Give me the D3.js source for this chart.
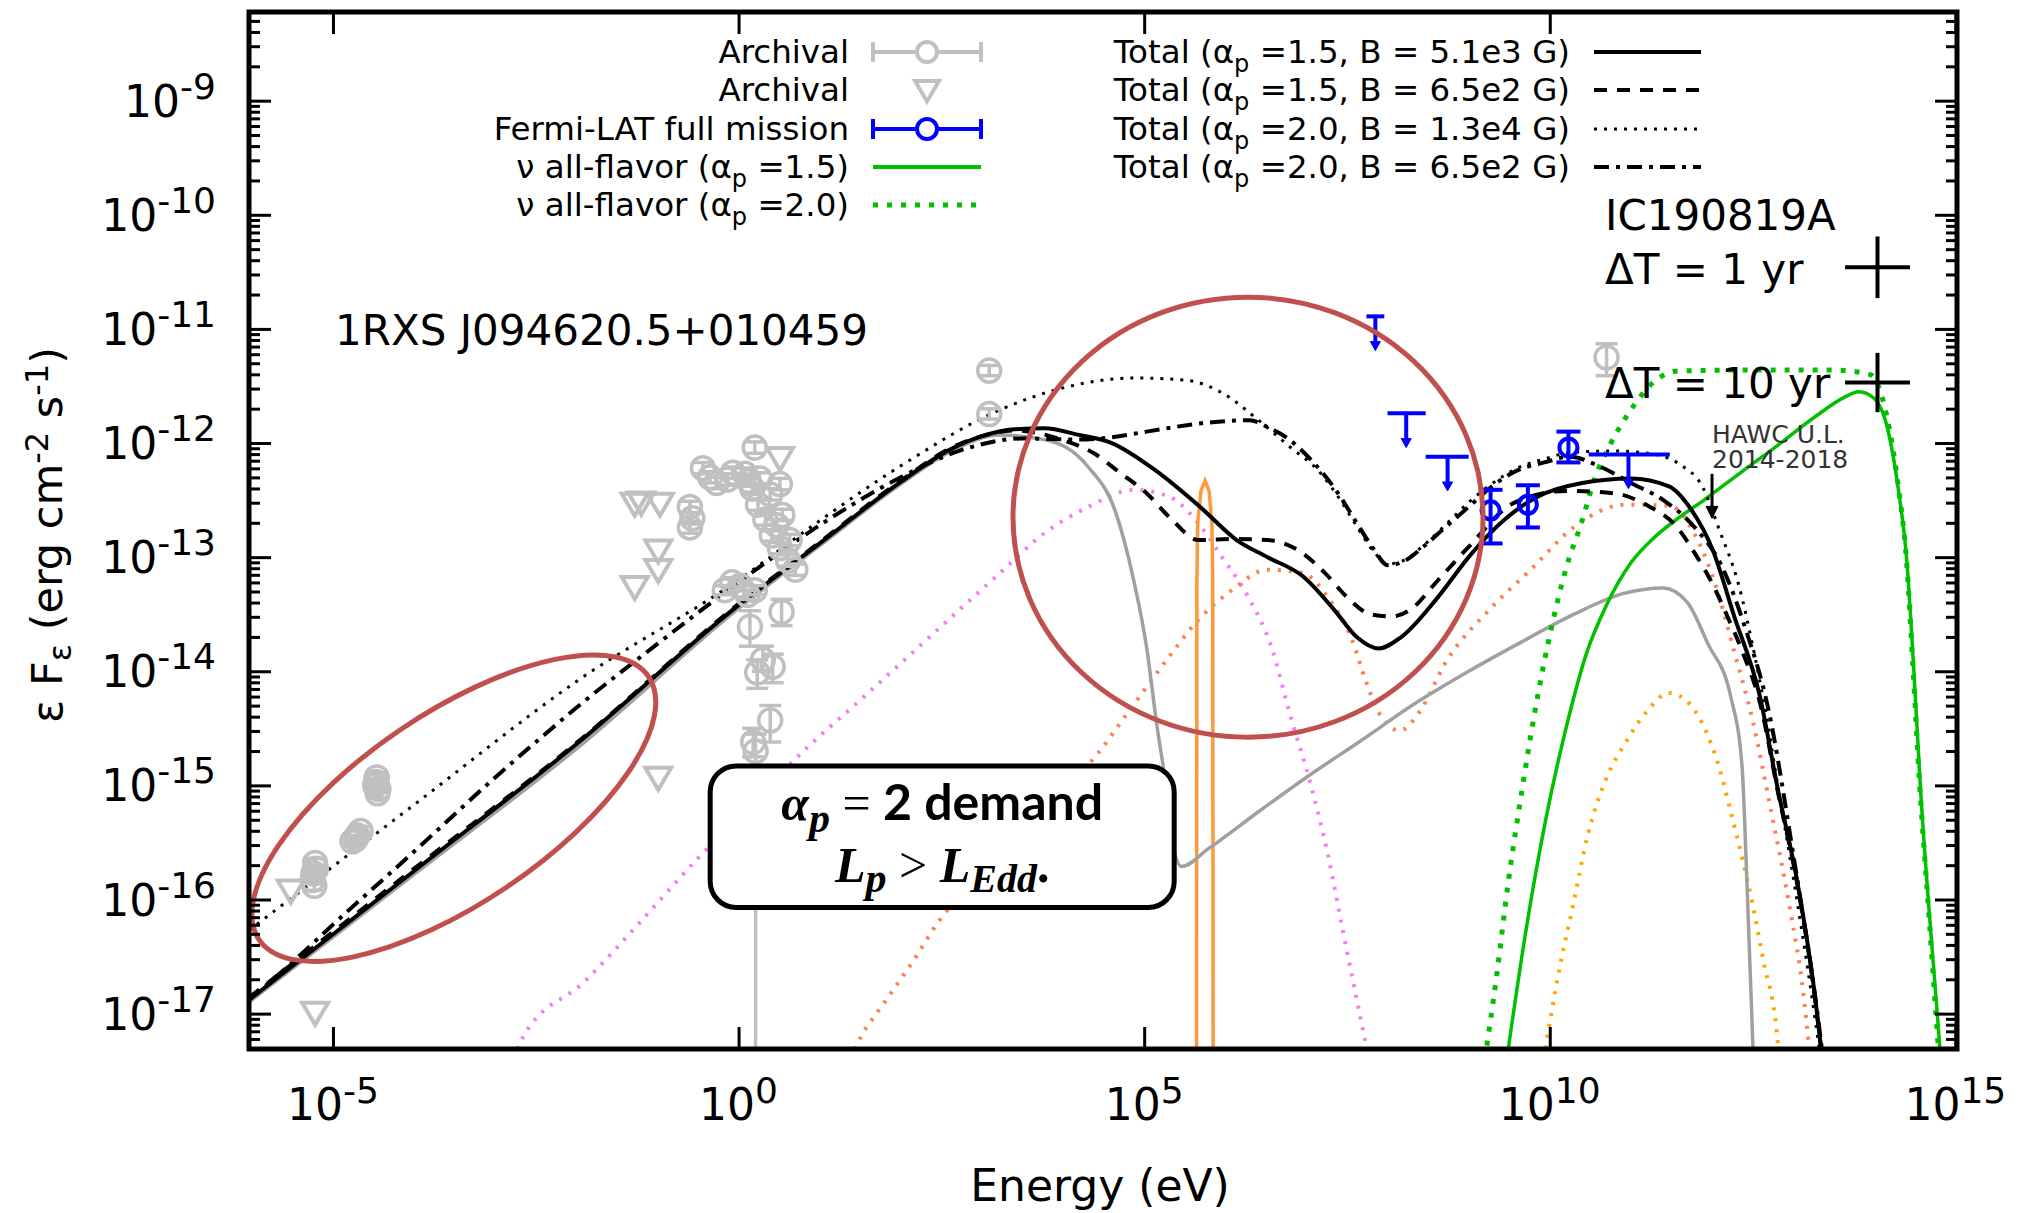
<!DOCTYPE html>
<html>
<head>
<meta charset="utf-8">
<title>1RXS J094620.5+010459 SED</title>
<script src="https://d3js.org/d3.v7.min.js"></script>
<style>
  body { margin: 0; background: #fff; }
  svg text { font-family: "DejaVu Sans", sans-serif; white-space: pre; }
</style>
</head>
<body>
<svg id="sed"></svg>
<script>
// every value below is [log10(E / eV), log10(eps F_eps / erg cm^-2 s^-1)]

var xTicks = [-5, 0, 5, 10, 15];
var yTicks = [-17, -16, -15, -14, -13, -12, -11, -10, -9];

// model curves
var totalA15B51e3 = [[-6.035,-16.88],[-4,-15.75],[-2,-14.64],[0,-13.42],[1,-12.88],[2,-12.34],[2.6,-12.06],[3.0,-11.94],[3.4,-11.88],[3.77,-11.87],[4.2,-11.93],[4.6,-12.0],[5.14,-12.24],[5.69,-12.56],[6.14,-12.85],[6.52,-13.0],[6.96,-13.17],[7.34,-13.46],[7.62,-13.7],[7.89,-13.8],[8.17,-13.7],[8.6,-13.37],[9.0,-13.0],[9.25,-12.8],[9.85,-12.47],[10.4,-12.35],[11.0,-12.31],[11.47,-12.38],[11.74,-12.58],[12.01,-12.94],[12.27,-13.51],[12.59,-14.22],[12.81,-15.03],[13.05,-15.84],[13.27,-16.85],[13.36,-17.4]];
var totalA15B65e2 = [[-6.035,-16.86],[-4,-15.73],[-2,-14.63],[0,-13.41],[1,-12.87],[2,-12.33],[2.6,-12.05],[3.0,-11.94],[3.4,-11.89],[3.98,-11.97],[4.38,-12.09],[4.7,-12.26],[5.03,-12.44],[5.34,-12.67],[5.67,-12.85],[6.08,-12.84],[6.52,-12.85],[6.9,-12.94],[7.23,-13.14],[7.5,-13.35],[7.79,-13.5],[8.05,-13.52],[8.3,-13.45],[8.6,-13.22],[9.0,-12.91],[9.57,-12.52],[10.2,-12.42],[10.79,-12.44],[11.21,-12.55],[11.56,-12.73],[11.8,-12.98],[12.01,-13.24],[12.19,-13.52],[12.37,-13.82],[12.6,-14.3],[12.81,-15.05],[13.05,-15.86],[13.27,-16.87],[13.36,-17.4]];
var totalA20B13e4 = [[-6.035,-16.27],[-4,-15.17],[-2,-14.09],[0,-13.2],[1,-12.68],[2,-12.2],[3.22,-11.71],[4.04,-11.51],[4.87,-11.43],[5.52,-11.45],[5.96,-11.56],[6.41,-11.8],[6.79,-12.03],[7.17,-12.26],[7.39,-12.47],[7.62,-12.73],[7.84,-12.96],[8.0,-13.06],[8.22,-13.02],[8.44,-12.9],[8.71,-12.72],[9.0,-12.52],[9.3,-12.35],[9.6,-12.22],[9.93,-12.14],[10.3,-12.08],[10.8,-12.07],[11.3,-12.1],[11.61,-12.19],[11.88,-12.38],[12.1,-12.78],[12.32,-13.22],[12.54,-13.91],[12.68,-14.43],[12.81,-15.0],[13.0,-15.8],[13.22,-16.8],[13.34,-17.4]];
var totalA20B65e2 = [[-6.035,-16.88],[-5.5,-16.55],[-5.0,-16.22],[-4.0,-15.58],[-3.0,-14.93],[-2.4,-14.56],[-2.0,-14.32],[-1.0,-13.76],[0,-13.22],[1,-12.72],[2,-12.3],[2.8,-12.05],[3.5,-11.96],[4.2,-11.97],[4.6,-11.95],[5.03,-11.9],[5.8,-11.82],[6.3,-11.8],[6.52,-11.86],[6.79,-11.97],[7.06,-12.15],[7.39,-12.44],[7.62,-12.7],[7.84,-12.94],[8.0,-13.07],[8.22,-13.03],[8.44,-12.91],[8.71,-12.74],[9.0,-12.56],[9.27,-12.39],[9.6,-12.24],[9.93,-12.17],[10.25,-12.12],[10.6,-12.2],[11.0,-12.35],[11.4,-12.5],[11.8,-12.75],[12.1,-13.05],[12.4,-13.6],[12.7,-14.35],[13.0,-15.6],[13.3,-17.0],[13.37,-17.4]];
var syncGray = [[-6.035,-16.9],[-4,-15.78],[-2,-14.68],[0,-13.45],[1,-12.9],[2,-12.36],[2.6,-12.08],[3.22,-11.93],[3.77,-11.97],[4.31,-12.21],[4.65,-12.61],[4.87,-13.2],[5.03,-13.79],[5.16,-14.49],[5.24,-14.86],[5.36,-15.54],[5.46,-15.71],[5.8,-15.55],[6.43,-15.22],[7.06,-14.9],[7.69,-14.6],[8.3,-14.3],[9.0,-14.0],[9.66,-13.74],[10.3,-13.5],[10.9,-13.32],[11.4,-13.27],[11.7,-13.4],[11.95,-13.76],[12.23,-14.22],[12.37,-14.83],[12.43,-15.84],[12.51,-17.4]];
var pinkComp = [[-2.78,-17.4],[-2.66,-17.21],[-1.9,-16.72],[-1.19,-16.18],[-0.49,-15.63],[0.2,-15.15],[0.67,-14.79],[1.41,-14.31],[2.2,-13.8],[3.22,-13.14],[3.77,-12.79],[4.31,-12.56],[4.87,-12.41],[5.31,-12.47],[5.63,-12.67],[5.96,-13.0],[6.3,-13.37],[6.57,-13.79],[6.79,-14.36],[7.06,-15.01],[7.26,-15.59],[7.44,-16.24],[7.63,-16.91],[7.77,-17.4]];
var salmonComp = [[1.37,-17.4],[1.51,-17.2],[1.79,-16.91],[2.16,-16.53],[2.48,-16.18],[3.0,-15.79],[3.5,-15.42],[4.0,-15.04],[4.43,-14.72],[4.73,-14.43],[5.31,-13.87],[5.63,-13.58],[6.08,-13.29],[6.52,-13.11],[6.96,-13.14],[7.28,-13.37],[7.56,-13.72],[7.73,-14.08],[7.89,-14.36],[8.15,-14.52],[8.4,-14.35],[8.71,-13.93],[9.27,-13.45],[9.75,-13.12],[10.33,-12.72],[10.93,-12.54],[11.47,-12.55],[11.83,-12.86],[12.05,-13.26],[12.27,-13.82],[12.5,-14.43],[12.73,-15.23],[12.95,-16.04],[13.13,-16.85],[13.21,-17.4]];
var orangeComp = [[9.92,-17.4],[9.98,-17.16],[10.11,-16.64],[10.29,-16.04],[10.47,-15.43],[10.69,-14.95],[10.93,-14.63],[11.2,-14.35],[11.47,-14.19],[11.74,-14.3],[11.91,-14.5],[12.1,-14.87],[12.23,-15.23],[12.37,-15.63],[12.5,-16.04],[12.64,-16.56],[12.78,-17.05],[12.83,-17.4]];
var lineFeature = [[5.645,-17.4],[5.65,-13.2],[5.66,-12.7],[5.7,-12.42],[5.75,-12.33],[5.8,-12.42],[5.835,-12.7],[5.845,-13.2],[5.85,-17.4]];
var nuA15 = [[9.47,-17.4],[9.7,-16.3],[9.95,-15.3],[10.2,-14.5],[10.45,-13.85],[10.7,-13.42],[11.0,-13.05],[11.3,-12.82],[11.6,-12.65],[11.9,-12.5],[12.37,-12.25],[12.81,-12.02],[13.27,-11.77],[13.63,-11.6],[13.81,-11.55],[14.0,-11.61],[14.17,-11.89],[14.3,-12.42],[14.4,-13.02],[14.49,-14.02],[14.57,-15.03],[14.67,-16.04],[14.76,-16.85],[14.82,-17.4]];
var nuA20 = [[9.2,-17.4],[9.35,-16.64],[9.49,-15.84],[9.66,-15.03],[9.85,-14.22],[10.02,-13.62],[10.2,-13.1],[10.39,-12.7],[10.56,-12.3],[10.74,-12.02],[10.97,-11.74],[11.29,-11.46],[11.56,-11.37],[12.5,-11.36],[13.5,-11.36],[13.95,-11.4],[14.15,-11.75],[14.3,-12.4],[14.4,-13.05],[14.48,-14.0],[14.56,-15.0],[14.66,-16.0],[14.75,-16.9],[14.8,-17.4]];

// data: archival points [logE, logF, logF low, logF high]
var archPts = [
  [-4.46,-14.93,-14.97,-14.89],[-4.48,-15.0,-15.04,-14.96],[-4.45,-15.07,-15.11,-15.03],[-4.47,-14.97,-15.0,-14.94],[-4.44,-15.03,-15.06,-15.0],
  [-4.76,-15.49,-15.53,-15.45],[-4.70,-15.44,-15.48,-15.4],[-4.66,-15.4,-15.44,-15.36],[-4.72,-15.47,-15.5,-15.44],
  [-5.22,-15.68,-15.72,-15.64],[-5.24,-15.77,-15.81,-15.73],[-5.23,-15.88,-15.92,-15.84],[-5.21,-15.73,-15.76,-15.7],[-5.25,-15.83,-15.86,-15.8],
  [-0.60,-12.56,-12.61,-12.51],[-0.60,-12.74,-12.79,-12.69],[-0.57,-12.66,-12.71,-12.61],
  [-0.44,-12.22,-12.27,-12.17],[-0.35,-12.3,-12.35,-12.25],[-0.27,-12.35,-12.4,-12.3],[-0.14,-12.32,-12.37,-12.27],[-0.07,-12.26,-12.31,-12.21],
  [0.20,-12.04,-12.09,-11.99],[0.51,-12.36,-12.41,-12.31],
  [0.08,-12.27,-12.32,-12.22],[0.17,-12.4,-12.45,-12.35],[0.24,-12.54,-12.59,-12.49],[0.33,-12.67,-12.72,-12.62],[0.41,-12.81,-12.86,-12.76],
  [0.51,-12.92,-12.97,-12.87],[0.61,-13.03,-13.08,-12.98],[0.70,-13.11,-13.16,-13.06],[0.39,-12.45,-12.5,-12.4],[0.54,-12.63,-12.68,-12.58],
  [0.26,-12.31,-12.36,-12.26],[0.63,-12.85,-12.9,-12.8],[0.12,-12.33,-12.38,-12.28],[0.47,-12.72,-12.77,-12.67],
  [-0.17,-13.29,-13.33,-13.25],[0.02,-13.25,-13.29,-13.21],[0.20,-13.29,-13.33,-13.25],[-0.08,-13.22,-13.26,-13.18],[0.11,-13.33,-13.37,-13.29],
  [0.14,-13.61,-13.78,-13.47],[0.53,-13.48,-13.6,-13.37],[0.30,-13.9,-14.0,-13.78],[0.42,-13.96,-14.1,-13.85],[0.23,-14.01,-14.15,-13.9],
  [0.39,-14.43,-14.62,-14.3],[0.18,-14.62,-14.75,-14.5],[0.21,-14.7,-18.0,-14.55],
  [3.09,-11.365,-11.41,-11.32],[3.09,-11.746,-11.79,-11.7],[10.70,-11.25,-11.41,-11.13]
];
var archUL = [[-5.52,-15.92],[-5.22,-16.99],[-1.28,-12.53],[-1.2,-12.52],[-0.97,-12.53],[-0.99,-12.94],[-0.99,-13.11],[-1.28,-13.26],[0.51,-12.13],[-0.99,-14.93]];

// Fermi-LAT: points [logE, logF, low, high], upper limits [logE, logF, logE low, logE high]
var fermiPts = [[9.27,-12.59,-12.88,-12.41],[9.73,-12.54,-12.74,-12.37],[10.23,-12.04,-12.17,-11.9]];
var fermiUL = [[7.85,-10.89,7.74,7.96],[8.23,-11.74,8.0,8.47],[8.74,-12.12,8.47,9.0],[10.97,-12.1,10.48,11.48]];

// IceCube sensitivity for IC190819A [logE, logF, half width in dex (E), half height in dex (F)]
var sensPts = [[14.04,-10.46,0.4,0.27],[14.04,-11.47,0.4,0.26]];
// HAWC upper limit [logE, logF top, logF tip]
var hawcUL = [[12.0,-12.27,-12.66]];

var svgWidth = 2024, svgHeight = 1213;
var plot = {left: 249, right: 1957, top: 12, bottom: 1049};

var svg = d3.select("#sed").attr("width", svgWidth).attr("height", svgHeight);

var x = d3.scaleLog().domain([Math.pow(10, -6.035), Math.pow(10, 15.02)]).range([plot.left, plot.right]);
var y = d3.scaleLog().domain([Math.pow(10, -17.31), Math.pow(10, -8.223)]).range([plot.bottom, plot.top]);
function px(v) { return x(Math.pow(10, v)); }
function py(v) { return y(Math.pow(10, v)); }

svg.append("defs").append("clipPath").attr("id", "clip")
  .append("rect").attr("x", plot.left).attr("y", plot.top)
  .attr("width", plot.right - plot.left).attr("height", plot.bottom - plot.top);

var inner = svg.append("g").attr("clip-path", "url(#clip)");

var curve = d3.line().x(function (d) { return px(d[0]); }).y(function (d) { return py(d[1]); })
  .curve(d3.curveMonotoneX);
var straight = d3.line().x(function (d) { return px(d[0]); }).y(function (d) { return py(d[1]); });

function drawCurve(data, color, width, dash, gen) {
  inner.append("path").datum(data)
    .attr("d", gen || curve)
    .attr("fill", "none")
    .attr("stroke", color)
    .attr("stroke-width", width)
    .attr("stroke-dasharray", dash || null);
}

var DOT = "3,8", GDOT = "5,9", BDOT = "3,7", BDASH = "13,10", BDASHDOT = "15,7,4,7";

drawCurve(pinkComp, "#f080f0", 4, DOT);
drawCurve(salmonComp, "#ff7f50", 4, DOT);
drawCurve(orangeComp, "#ffa500", 4, DOT);
drawCurve(lineFeature, "#ff9a3c", 3.5, null, straight);
drawCurve(syncGray, "#a0a0a0", 3.5);
drawCurve(nuA20, "#00c000", 5, GDOT);
drawCurve(nuA15, "#00c000", 3.5);
drawCurve(totalA20B13e4, "#000", 3, BDOT);
drawCurve(totalA20B65e2, "#000", 4, BDASHDOT);
drawCurve(totalA15B65e2, "#000", 4, BDASH);
drawCurve(totalA15B51e3, "#000", 4);

// archival data
var gray = "#c0c0c0";
var arch = inner.append("g").attr("stroke", gray).attr("stroke-width", 3.5).attr("fill", "none");
archPts.forEach(function (d) {
  var cx = px(d[0]), cy = py(d[1]);
  arch.append("line").attr("x1", cx).attr("x2", cx).attr("y1", py(d[2])).attr("y2", py(d[3]));
  arch.append("line").attr("x1", cx - 11).attr("x2", cx + 11).attr("y1", py(d[2])).attr("y2", py(d[2]));
  arch.append("line").attr("x1", cx - 11).attr("x2", cx + 11).attr("y1", py(d[3])).attr("y2", py(d[3]));
  arch.append("circle").attr("cx", cx).attr("cy", cy).attr("r", 11.5);
});
function downTri(cx, cy, s) {
  return "M" + (cx - s) + "," + (cy - s * 0.75) + "L" + (cx + s) + "," + (cy - s * 0.75) + "L" + cx + "," + (cy + s * 0.95) + "Z";
}
archUL.forEach(function (d) {
  arch.append("path").attr("d", downTri(px(d[0]), py(d[1]), 13)).attr("stroke-width", 4);
});

// Fermi-LAT
var blue = "#0000ff";
var fermi = inner.append("g").attr("stroke", blue).attr("stroke-width", 4).attr("fill", "none");
fermiPts.forEach(function (d) {
  var cx = px(d[0]);
  fermi.append("line").attr("x1", cx).attr("x2", cx).attr("y1", py(d[2])).attr("y2", py(d[3]));
  fermi.append("line").attr("x1", cx - 12).attr("x2", cx + 12).attr("y1", py(d[2])).attr("y2", py(d[2]));
  fermi.append("line").attr("x1", cx - 12).attr("x2", cx + 12).attr("y1", py(d[3])).attr("y2", py(d[3]));
  fermi.append("circle").attr("cx", cx).attr("cy", py(d[1])).attr("r", 9);
});
fermiUL.forEach(function (d) {
  var cx = px(d[0]), top = py(d[1]), tip = py(d[1] - 0.3);
  fermi.append("line").attr("x1", px(d[2])).attr("x2", px(d[3])).attr("y1", top).attr("y2", top);
  fermi.append("line").attr("x1", cx).attr("x2", cx).attr("y1", top).attr("y2", tip - 6);
  fermi.append("path").attr("d", "M" + (cx - 5) + "," + (tip - 9) + "L" + (cx + 5) + "," + (tip - 9) + "L" + cx + "," + tip + "Z")
    .attr("fill", blue).attr("stroke-width", 1);
});

// sensitivity crosses and HAWC limit
var marks = svg.append("g").attr("stroke", "#000").attr("stroke-width", 4);
sensPts.forEach(function (d) {
  var cx = px(d[0]), cy = py(d[1]);
  marks.append("line").attr("x1", px(d[0] - d[2])).attr("x2", px(d[0] + d[2])).attr("y1", cy).attr("y2", cy);
  marks.append("line").attr("x1", cx).attr("x2", cx).attr("y1", py(d[1] - d[3])).attr("y2", py(d[1] + d[3]));
});
hawcUL.forEach(function (d) {
  var cx = px(d[0]), tip = py(d[2]);
  marks.append("line").attr("x1", cx).attr("x2", cx).attr("y1", py(d[1])).attr("y2", tip - 8).attr("stroke-width", 3);
  marks.append("path").attr("d", "M" + (cx - 6) + "," + (tip - 12) + "L" + (cx + 6) + "," + (tip - 12) + "L" + cx + "," + tip + "Z")
    .attr("fill", "#000").attr("stroke-width", 1);
});

// annotation ellipses and box
var red = "#c0504d";
svg.append("ellipse")
  .attr("transform", "translate(" + px(-3.51) + "," + py(-15.2) + ") rotate(-34)")
  .attr("rx", 235).attr("ry", 95)
  .attr("fill", "none").attr("stroke", red).attr("stroke-width", 5);
svg.append("ellipse")
  .attr("cx", px(6.28)).attr("cy", py(-12.65))
  .attr("rx", 235).attr("ry", 220)
  .attr("fill", "none").attr("stroke", red).attr("stroke-width", 5);

var boxX = [-0.35, 5.37], boxY = [-14.83, -16.07];
svg.append("rect")
  .attr("x", px(boxX[0])).attr("y", py(boxY[0]))
  .attr("width", px(boxX[1]) - px(boxX[0])).attr("height", py(boxY[1]) - py(boxY[0]))
  .attr("rx", 26).attr("fill", "#fff").attr("stroke", "#000").attr("stroke-width", 5);

// rich text helper: parts are strings or {t, sub, sup, size, family, style, weight}
function rich(g, parts, size, shiftSub, shiftSup) {
  var t = g.append("text").attr("font-size", size);
  var shift = 0;
  parts.forEach(function (p) {
    var s = typeof p === "string" ? {t: p} : p;
    var target = s.sub ? shiftSub : s.sup ? -shiftSup : 0;
    var ts = t.append("tspan").text(s.t);
    if (target !== shift) { ts.attr("dy", target - shift); shift = target; }
    if (s.sub || s.sup) ts.attr("font-size", s.size || size * 0.75);
    if (s.family) ts.attr("font-family", s.family);
    if (s.style) ts.attr("font-style", s.style);
    if (s.weight) ts.attr("font-weight", s.weight);
  });
  return t;
}

var bx = (px(boxX[0]) + px(boxX[1])) / 2;
var serif = "'Liberation Serif', 'DejaVu Serif', serif";
var boldSans = "Lato, 'Liberation Sans', sans-serif";
rich(svg, [
  {t: "α", family: serif, style: "italic", weight: "bold"},
  {t: "p", sub: true, family: serif, style: "italic", weight: "bold", size: 42},
  {t: " = ", family: serif},
  {t: "2 demand", family: boldSans, weight: "bold"}
], 50, 12, 0).attr("x", bx).attr("y", 820).attr("text-anchor", "middle");
rich(svg, [
  {t: "L", family: serif, style: "italic", weight: "bold"},
  {t: "p", sub: true, family: serif, style: "italic", weight: "bold", size: 42},
  {t: " > ", family: serif},
  {t: "L", family: serif, style: "italic", weight: "bold"},
  {t: "Edd", sub: true, family: serif, style: "italic", weight: "bold", size: 40},
  {t: ".", family: serif, weight: "bold"}
], 50, 10, 0).attr("x", bx).attr("y", 882).attr("text-anchor", "middle");

// axes
function styleAxis(g) {
  g.select(".domain").remove();
  g.selectAll(".tick line").attr("stroke", "#000").attr("stroke-width", 3);
}
var xMajor = xTicks.map(function (v) { return Math.pow(10, v); });
var yMajor = yTicks.map(function (v) { return Math.pow(10, v); });
var yMinor = [];
for (var n = -18; n <= -9; n++) {
  for (var k = 2; k <= 9; k++) {
    var v = k * Math.pow(10, n);
    if (v > y.domain()[0] && v < y.domain()[1]) yMinor.push(v);
  }
}
svg.append("g").attr("transform", "translate(0," + plot.bottom + ")")
  .call(d3.axisBottom(x).tickValues(xMajor).tickSize(-22).tickFormat("")).call(styleAxis);
svg.append("g").attr("transform", "translate(0," + plot.top + ")")
  .call(d3.axisTop(x).tickValues(xMajor).tickSize(-22).tickFormat("")).call(styleAxis);
svg.append("g").attr("transform", "translate(" + plot.left + ",0)")
  .call(d3.axisLeft(y).tickValues(yMajor).tickSize(-22).tickFormat("")).call(styleAxis);
svg.append("g").attr("transform", "translate(" + plot.left + ",0)")
  .call(d3.axisLeft(y).tickValues(yMinor).tickSize(-11).tickFormat("")).call(styleAxis);
svg.append("g").attr("transform", "translate(" + plot.right + ",0)")
  .call(d3.axisRight(y).tickValues(yMajor).tickSize(-22).tickFormat("")).call(styleAxis);
svg.append("g").attr("transform", "translate(" + plot.right + ",0)")
  .call(d3.axisRight(y).tickValues(yMinor).tickSize(-11).tickFormat("")).call(styleAxis);

svg.append("rect")
  .attr("x", plot.left).attr("y", plot.top)
  .attr("width", plot.right - plot.left).attr("height", plot.bottom - plot.top)
  .attr("fill", "none").attr("stroke", "#000").attr("stroke-width", 5);

xTicks.forEach(function (t) {
  rich(svg, ["10", {t: String(t), sup: true, size: 36}], 44, 0, 17)
    .attr("x", px(t)).attr("y", 1120).attr("text-anchor", "middle");
});
yTicks.forEach(function (t) {
  rich(svg, ["10", {t: String(t), sup: true, size: 36}], 44, 0, 18)
    .attr("x", 216).attr("y", py(t) + 16).attr("text-anchor", "end");
});

svg.append("text").attr("x", (plot.left + plot.right) / 2 - 3).attr("y", 1201)
  .attr("text-anchor", "middle").attr("font-size", 44).text("Energy (eV)");
rich(svg, ["ε F", {t: "ε", sub: true, size: 32}, " (erg cm", {t: "-2", sup: true, size: 32}, " s", {t: "-1", sup: true, size: 32}, ")"], 43, 9, 14)
  .attr("text-anchor", "middle").attr("transform", "translate(62,535) rotate(-90)");

// labels
svg.append("text").attr("x", 335).attr("y", 345).attr("font-size", 42).text("1RXS J094620.5+010459");
svg.append("text").attr("x", 1605).attr("y", 230).attr("font-size", 42).text("IC190819A");
svg.append("text").attr("x", 1605).attr("y", 284).attr("font-size", 42).text("ΔT = 1 yr");
svg.append("text").attr("x", 1605).attr("y", 398).attr("font-size", 42).text("ΔT = 10 yr");
svg.append("text").attr("x", 1712).attr("y", 443).attr("font-size", 25).attr("fill", "#333").text("HAWC U.L.");
svg.append("text").attr("x", 1712).attr("y", 468).attr("font-size", 25).attr("fill", "#333").text("2014-2018");

// legend
var leg = svg.append("g");
var leftRows = [52, 90, 129, 167, 205];
var rightRows = [52, 90, 129, 167];
var lx = [873, 981], rx = [1594, 1701];
function legText(xr, yr, parts) {
  rich(leg, parts, 32.5, 9, 0).attr("x", xr).attr("y", yr + 11).attr("text-anchor", "end");
}
legText(849, leftRows[0], ["Archival"]);
legText(849, leftRows[1], ["Archival"]);
legText(849, leftRows[2], ["Fermi-LAT full mission"]);
legText(849, leftRows[3], ["ν all-flavor (α", {t: "p", sub: true, size: 24}, " =1.5)"]);
legText(849, leftRows[4], ["ν all-flavor (α", {t: "p", sub: true, size: 24}, " =2.0)"]);

function errSample(yr, color) {
  var g = leg.append("g").attr("stroke", color).attr("stroke-width", 4).attr("fill", "none");
  g.append("line").attr("x1", lx[0]).attr("x2", lx[1]).attr("y1", yr).attr("y2", yr);
  g.append("line").attr("x1", lx[0]).attr("x2", lx[0]).attr("y1", yr - 10).attr("y2", yr + 10);
  g.append("line").attr("x1", lx[1]).attr("x2", lx[1]).attr("y1", yr - 10).attr("y2", yr + 10);
  g.append("circle").attr("cx", (lx[0] + lx[1]) / 2).attr("cy", yr).attr("r", 10).attr("fill", "#fff");
}
errSample(leftRows[0], gray);
errSample(leftRows[2], blue);
leg.append("path").attr("d", downTri((lx[0] + lx[1]) / 2, leftRows[1], 12))
  .attr("fill", "none").attr("stroke", gray).attr("stroke-width", 4);
function lineSample(xr, yr, color, width, dash) {
  leg.append("line").attr("x1", xr[0]).attr("x2", xr[1]).attr("y1", yr).attr("y2", yr)
    .attr("stroke", color).attr("stroke-width", width).attr("stroke-dasharray", dash || null);
}
lineSample(lx, leftRows[3], "#00c000", 4);
lineSample(lx, leftRows[4], "#00c000", 5, GDOT);

var totals = [
  ["1.5", "5.1e3", null, 4],
  ["1.5", "6.5e2", BDASH, 4],
  ["2.0", "1.3e4", BDOT, 3],
  ["2.0", "6.5e2", BDASHDOT, 4]
];
totals.forEach(function (d, i) {
  legText(1570, rightRows[i], ["Total (α", {t: "p", sub: true, size: 24}, " =" + d[0] + ", B = " + d[1] + " G)"]);
  lineSample(rx, rightRows[i], "#000", d[3], d[2]);
});
</script>
</body>
</html>
